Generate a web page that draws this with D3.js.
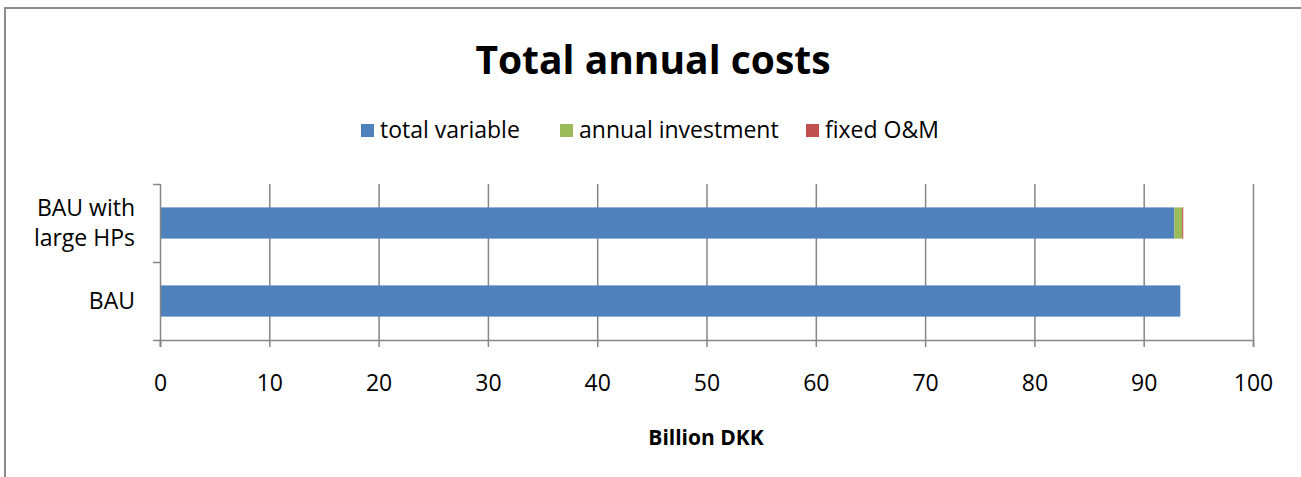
<!DOCTYPE html>
<html>
<head>
<meta charset="utf-8">
<script src="https://cdn.jsdelivr.net/npm/d3@7"></script>
<style>
  html, body { margin: 0; padding: 0; background: #fff; }
  svg { display: block; }
  text { font-family: "Open Sans", "Liberation Sans", sans-serif; fill: #000; }
</style>
</head>
<body>
<svg id="chart" width="1301" height="477"></svg>
<script>
// Scenarios (bottom to top) and cost components, billion DKK
const categories = ["BAU", "BAU with\nlarge HPs"];
const seriesNames = ["total variable", "annual investment", "fixed O&M"];
const totalVariable = [93.35, 92.8];
const annualInvestment = [0, 0.72];
const fixedOM = [0, 0.1];
const xTicks = [0, 10, 20, 30, 40, 50, 60, 70, 80, 90, 100];
const colors = ["#4f81bd", "#9bbb59", "#c0504d"];

const svg = d3.select("#chart");
const W = 1301, H = 477;

// outer frame
svg.append("rect").attr("x", 5).attr("y", 8).attr("width", W + 10).attr("height", H + 10)
  .attr("fill", "#fff").attr("stroke", "#8c8c8c").attr("stroke-width", 2);

const plot = { left: 160, right: 1253, top: 184, bottom: 340 };

const x = d3.scaleLinear().domain([0, 100]).range([plot.left, plot.right]);
// categories listed top to bottom
const y = d3.scaleBand().domain(categories.slice().reverse()).range([plot.top, plot.bottom]).paddingInner(0.6).paddingOuter(0.3);
const yBands = d3.scaleBand().domain(categories.slice().reverse()).range([plot.top, plot.bottom]);

// vertical gridlines
svg.append("g").selectAll("line").data(xTicks.filter(d => d > 0)).join("line")
  .attr("x1", d => x(d) + 0.5).attr("x2", d => x(d) + 0.5)
  .attr("y1", plot.top).attr("y2", plot.bottom)
  .attr("stroke", "#868686").attr("stroke-width", 1.5);

// stacked bars
const rows = categories.map((c, i) => ({ cat: c, vals: [totalVariable[i], annualInvestment[i], fixedOM[i]] }));
const stackG = svg.append("g");
rows.forEach(r => {
  let acc = 0;
  r.vals.forEach((v, k) => {
    if (v > 0) {
      stackG.append("rect")
        .attr("x", x(acc)).attr("width", x(acc + v) - x(acc))
        .attr("y", y(r.cat)).attr("height", y.bandwidth())
        .attr("fill", colors[k]);
    }
    acc += v;
  });
});

// x axis
const xAxis = d3.axisBottom(x).tickValues(xTicks).tickSize(7).tickPadding(28);
const gx = svg.append("g").attr("transform", `translate(0,${plot.bottom})`).call(xAxis);
gx.select(".domain").attr("stroke", "#868686").attr("stroke-width", 1.5);
gx.selectAll(".tick line").attr("stroke", "#868686").attr("stroke-width", 1.5);
gx.selectAll(".tick text").attr("font-size", 23).attr("font-family", "Open Sans, Liberation Sans, sans-serif").attr("fill", "#000");

// y axis with ticks at band boundaries
const yAxisG = svg.append("g");
yAxisG.append("line").attr("x1", plot.left + 0.5).attr("x2", plot.left + 0.5)
  .attr("y1", plot.top).attr("y2", plot.bottom + 7)
  .attr("stroke", "#868686").attr("stroke-width", 1.5);
const bounds = [plot.top, plot.top + yBands.bandwidth(), plot.bottom];
yAxisG.selectAll("line.tk").data(bounds).join("line").attr("class", "tk")
  .attr("x1", plot.left - 7).attr("x2", plot.left)
  .attr("y1", d => d + 0.5).attr("y2", d => d + 0.5)
  .attr("stroke", "#868686").attr("stroke-width", 1.5);

categories.forEach(c => {
  const lines = c.split("\n");
  const cy = yBands(c) + yBands.bandwidth() / 2;
  const lh = 30;
  const t = yAxisG.append("text").attr("text-anchor", "end").attr("font-size", 23)
    .attr("x", plot.left - 25);
  lines.forEach((ln, i) => {
    t.append("tspan").attr("x", plot.left - 25)
      .attr("y", cy + (i - (lines.length - 1) / 2) * lh)
      .attr("dy", "0.35em").text(ln);
  });
});

// title
svg.append("text").attr("x", 653).attr("y", 74).attr("text-anchor", "middle")
  .attr("font-size", 39).attr("font-weight", "bold").text("Total annual costs");

// axis title
svg.append("text").attr("x", 706).attr("y", 445).attr("text-anchor", "middle")
  .attr("font-size", 21).attr("font-weight", "bold").text("Billion DKK");

// legend
const legendX = [361, 560, 806];
const lg = svg.append("g");
seriesNames.forEach((n, i) => {
  lg.append("rect").attr("x", legendX[i]).attr("y", 124).attr("width", 13).attr("height", 13).attr("fill", colors[i]);
  lg.append("text").attr("x", legendX[i] + 19).attr("y", 130).attr("dy", "0.35em")
    .attr("font-size", 23).text(n);
});
</script>
</body>
</html>
